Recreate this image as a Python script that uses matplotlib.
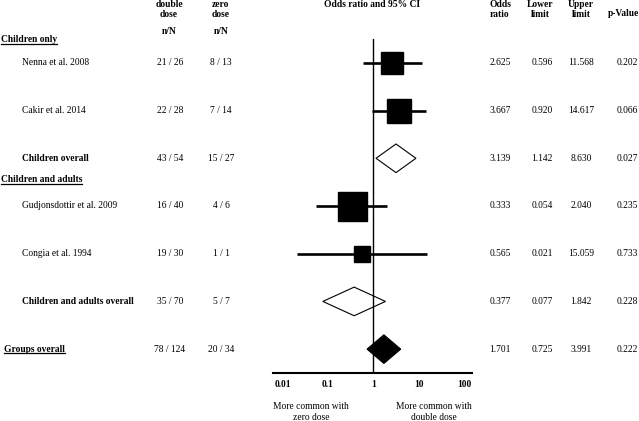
import matplotlib

matplotlib.use("Agg")
import matplotlib.pyplot as plt
from matplotlib.lines import Line2D
from matplotlib.patches import Polygon
from matplotlib.transforms import blended_transform_factory

# data
labels = ["Nenna et al. 2008", "Cakir et al. 2014", "Children overall",
          "Gudjonsdottir et al. 2009", "Congia et al. 1994",
          "Children and adults overall", "Groups overall"]
kinds = ["study", "study", "subtotal", "study", "study", "subtotal", "total"]
double_nN = ["21 / 26", "22 / 28", "43 / 54", "16 / 40", "19 / 30", "35 / 70", "78 / 124"]
zero_nN = ["8 / 13", "7 / 14", "15 / 27", "4 / 6", "1 / 1", "5 / 7", "20 / 34"]
odds = [2.625, 3.667, 3.139, 0.333, 0.565, 0.377, 1.701]
lower = [0.596, 0.920, 1.142, 0.054, 0.021, 0.077, 0.725]
upper = [11.568, 14.617, 8.630, 2.040, 15.059, 1.842, 3.991]
pvals = [0.202, 0.066, 0.027, 0.235, 0.733, 0.228, 0.222]
weights = [22, 24, 0, 29, 16, 0, 0]  # box side in px, as drawn
ticks = [0.01, 0.1, 1, 10, 100]
tick_labels = ["0.01", "0.1", "1", "10", "100"]

W, H = 639, 421
FONT = ["Liberation Serif", "DejaVu Serif"]
FS = 6.85

plt.rcParams["font.family"] = FONT

fig = plt.figure(figsize=(W / 100, H / 100), dpi=100)
fig.patch.set_facecolor("white")


def fx(x):
    return x / W


def fy(y):
    return 1 - y / H


ax = fig.add_axes([fx(273), fy(373), fx(472) - fx(273), fy(39) - fy(373)])
ax.set_xscale("log")
ax.set_xlim(10 ** -2.21, 10 ** 2.17)
ax.set_ylim(6.5, -0.5)
for side in ["left", "right", "top"]:
    ax.spines[side].set_visible(False)
ax.spines["bottom"].set_linewidth(1.5)
ax.set_yticks([])
ax.set_xticks(ticks)
ax.set_xticklabels(tick_labels, fontweight="bold", fontsize=FS)
ax.minorticks_off()
ax.tick_params(axis="x", length=0, pad=5)
ax.axvline(1, color="black", lw=1.0)

half_h = 0.30
for i, k in enumerate(kinds):
    if k == "study":
        ax.plot([lower[i], upper[i]], [i, i], color="black", lw=1.9, solid_capstyle="butt")
        ax.plot(odds[i], i, marker="s", color="black", markersize=weights[i] * 0.72, lw=0)
    else:
        pts = [(lower[i], i), (odds[i], i - half_h), (upper[i], i), (odds[i], i + half_h)]
        face = "black" if k == "total" else "white"
        ax.add_patch(Polygon(pts, closed=True, facecolor=face, edgecolor="black", lw=0.8))

row_tr = blended_transform_factory(fig.transFigure, ax.transData)

# left-hand labels and count columns
for i, lab in enumerate(labels):
    x = 4 if kinds[i] == "total" else 22
    bold = kinds[i] != "study"
    ax.text(fx(x), i, lab, transform=row_tr, ha="left", va="center", fontsize=FS,
            fontweight="bold" if bold else "normal")
    ax.text(fx(170), i, double_nN[i], transform=row_tr, ha="center", va="center", fontsize=FS)
    ax.text(fx(221), i, zero_nN[i], transform=row_tr, ha="center", va="center", fontsize=FS)
    ax.text(fx(500), i, f"{odds[i]:.3f}", transform=row_tr, ha="center", va="center", fontsize=FS)
    ax.text(fx(542), i, f"{lower[i]:.3f}", transform=row_tr, ha="center", va="center", fontsize=FS)
    ax.text(fx(581), i, f"{upper[i]:.3f}", transform=row_tr, ha="center", va="center", fontsize=FS)
    ax.text(fx(627), i, f"{pvals[i]:.3f}", transform=row_tr, ha="center", va="center", fontsize=FS)

underlined = [ax.text(fx(1), -0.48, "Children only", transform=row_tr, ha="left", va="center",
                      fontsize=FS, fontweight="bold"),
              ax.text(fx(1), 2.45, "Children and adults", transform=row_tr, ha="left", va="center",
                      fontsize=FS, fontweight="bold")]

# header
hdr = dict(ha="center", va="center", fontsize=FS, fontweight="bold", linespacing=1.25)
fig.text(fx(169), fy(9.5), "double\ndose", **hdr)
fig.text(fx(221), fy(9.5), "zero\ndose", **hdr)
fig.text(fx(169), fy(32), "n/N", **hdr)
fig.text(fx(221), fy(32), "n/N", **hdr)
fig.text(fx(372), fy(4.5), "Odds ratio and 95% CI", **hdr)
fig.text(fx(500), fy(9.5), "Odds\nratio", **hdr)
fig.text(fx(540), fy(9.5), "Lower\nlimit", **hdr)
fig.text(fx(581), fy(9.5), "Upper\nlimit", **hdr)
fig.text(fx(623), fy(14), "p-Value", **hdr)

foot = dict(ha="center", va="center", fontsize=FS, linespacing=1.3)
fig.text(fx(311), fy(412), "More common with\nzero dose", **foot)
fig.text(fx(434), fy(412), "More common with\ndouble dose", **foot)

# underline section headings
fig.canvas.draw()
renderer = fig.canvas.get_renderer()
group_txt = [t for t in ax.texts if t.get_text() == "Groups overall"]
for t in underlined + group_txt:
    bb = t.get_window_extent(renderer).transformed(fig.transFigure.inverted())
    yline = bb.y0 + 0.2 / H
    fig.add_artist(Line2D([bb.x0, bb.x1], [yline, yline], color="black", lw=0.9,
                          transform=fig.transFigure))

fig.savefig("out.png", dpi=100)
